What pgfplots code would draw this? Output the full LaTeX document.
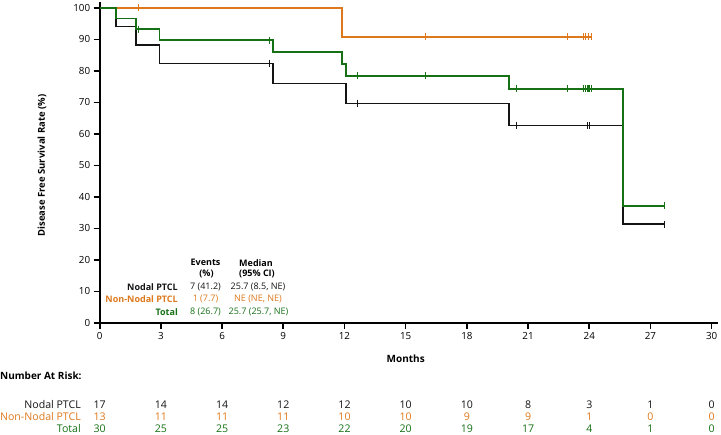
\documentclass[border=0pt]{standalone}
\usepackage{pgfplots}
\pgfplotsset{compat=1.18}
\usepackage{fontspec}
\setmainfont{Open Sans}

\definecolor{kmblack}{RGB}{20,20,20}
\definecolor{kmorange}{RGB}{222,120,28}
\definecolor{kmgreen}{RGB}{22,112,22}

\begin{document}
\begin{tikzpicture}[x=1pt,y=1pt]
\useasboundingbox (0,0) rectangle (721,435);

\begin{axis}[
  at={(99.7pt,112pt)}, anchor=south west,
  scale only axis, width=618.1pt, height=321.3pt,
  xmin=0, xmax=30.3, ymin=0, ymax=102,
  axis lines*=left,
  axis line style={line width=1.6pt, -},
  xtick={0,3,...,30}, ytick={0,10,...,100},
  tick style={line width=1.6pt, black},
  tick align=outside, major tick length=6pt,
  tick label style={font=\fontsize{9.8}{11}\selectfont},
  /pgf/number format/assume math mode=true,
  clip=false,
  const plot,
  every axis plot/.append style={line width=1.8pt},
]
% Nodal PTCL
\addplot[kmblack] coordinates {
  (0,100) (0.79,94.12) (1.77,88.24) (2.93,82.35) (8.48,76.02)
  (12.08,69.68) (20.08,62.72) (25.66,31.36) (27.69,31.36)};
% Non-Nodal PTCL
\addplot[kmorange] coordinates {
  (0,100) (11.88,90.91) (24.15,90.91)};
% Total
\addplot[kmgreen] coordinates {
  (0,100) (0.79,96.67) (1.77,93.33) (2.93,89.74) (8.48,86.00)
  (11.88,82.26) (12.08,78.52) (20.08,74.39) (25.66,37.20) (27.69,37.20)};

% censored observations
\addplot[only marks, mark=|, mark size=3.5pt, kmblack, line width=0.9pt] coordinates {
  (8.31,82.35) (12.65,69.68) (20.45,62.72) (23.89,62.72) (24.02,62.72) (27.69,31.36)};
\addplot[only marks, mark=|, mark size=3.5pt, kmorange, line width=0.9pt] coordinates {
  (1.88,100) (15.95,90.91) (22.94,90.91) (23.70,90.91) (23.79,90.91) (23.97,90.91) (24.10,90.91)};
\addplot[only marks, mark=|, mark size=3.5pt, kmgreen, line width=0.9pt] coordinates {
  (1.88,93.33) (8.31,89.74) (12.65,78.52) (15.95,78.52) (20.45,74.39) (22.94,74.39)
  (23.70,74.39) (23.79,74.39) (23.89,74.39) (23.97,74.39) (24.02,74.39) (24.10,74.39)
  (27.69,37.20)};
\end{axis}

% axis titles
\node[rotate=90, font=\bfseries\fontsize{9.5}{11}\selectfont] at (42,269.5) {Disease Free Survival Rate (\%)};
\node[font=\bfseries\fontsize{10}{12}\selectfont] at (405.7,76) {Months};

% summary table
\begin{scope}[every node/.style={font=\fontsize{9}{10}\selectfont, inner sep=0pt}]
  \node[font=\bfseries\fontsize{9}{10}\selectfont] at (205.5,172.3) {Events};
  \node[font=\bfseries\fontsize{9}{10}\selectfont] at (206.5,160.7) {(\%)};
  \node[font=\bfseries\fontsize{9}{10}\selectfont] at (256,172.3) {Median};
  \node[font=\bfseries\fontsize{9}{10}\selectfont] at (257,160.7) {(95\% CI)};
  \node[anchor=east, font=\bfseries\fontsize{9}{10}\selectfont, text=kmblack] at (178,148.3) {Nodal PTCL};
  \node[anchor=east, font=\bfseries\fontsize{9}{10}\selectfont, text=kmorange] at (178,135.7) {Non-Nodal PTCL};
  \node[anchor=east, font=\bfseries\fontsize{9}{10}\selectfont, text=kmgreen] at (178,123.3) {Total};
  \node[text=kmblack] at (205.5,148.3) {7 (41.2)};
  \node[text=kmorange] at (205.5,135.7) {1 (7.7)};
  \node[text=kmgreen] at (205.5,123.3) {8 (26.7)};
  \node[text=kmblack] at (258,148.3) {25.7 (8.5, NE)};
  \node[text=kmorange] at (258,135.7) {NE (NE, NE)};
  \node[text=kmgreen] at (258.5,123.3) {25.7 (25.7, NE)};
\end{scope}

% number at risk
\node[anchor=west, inner sep=0pt, font=\bfseries\fontsize{10}{12}\selectfont] at (0,59) {Number At Risk:};
\begin{scope}[every node/.style={font=\fontsize{10.6}{12}\selectfont, inner sep=0pt}]
  \node[anchor=east, text=kmblack] at (81,30.5) {Nodal PTCL};
  \node[anchor=east, text=kmorange] at (81,18) {Non-Nodal PTCL};
  \node[anchor=east, text=kmgreen] at (81,6) {Total};
  \foreach \n [count=\i from 0] in {17,14,14,12,12,10,10,8,3,1,0}
    \node[text=kmblack] at (99.7+61.2*\i,30.5) {\n};
  \foreach \n [count=\i from 0] in {13,11,11,11,10,10,9,9,1,0,0}
    \node[text=kmorange] at (99.7+61.2*\i,18) {\n};
  \foreach \n [count=\i from 0] in {30,25,25,23,22,20,19,17,4,1,0}
    \node[text=kmgreen] at (99.7+61.2*\i,6) {\n};
\end{scope}
\end{tikzpicture}
\end{document}
